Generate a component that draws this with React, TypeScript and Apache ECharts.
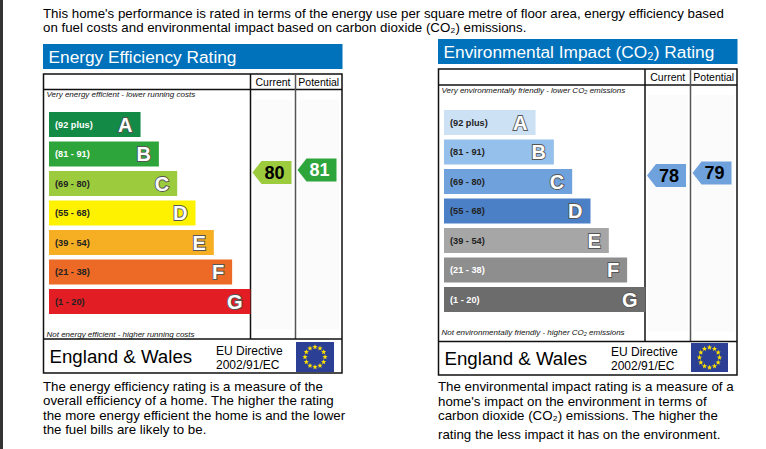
import React, { useEffect, useRef } from "react";
import * as echarts from "echarts";

// bands shared by both ratings
const bandLetters = ["A", "B", "C", "D", "E", "F", "G"];
const bandRanges = ["(92 plus)", "(81 - 91)", "(69 - 80)", "(55 - 68)", "(39 - 54)", "(21 - 38)", "(1 - 20)"];
const bandMin = [92, 81, 69, 55, 39, 21, 1];
const bandMax = [100, 91, 80, 68, 54, 38, 20];
// relative bar length of each band
const bandLengths = [5, 6, 7, 8, 9, 10, 11];

// ratings: [current, potential]
const energyRatings = [80, 81];
const co2Ratings = [78, 79];
const columnLabels = ["Current", "Potential"];

const energyColors = ["#138a45", "#2ea53a", "#9ccb3e", "#fff200", "#f6ae22", "#ec6a25", "#e31d24"];
const energyTextColors = ["#fff", "#fff", "#222", "#222", "#222", "#222", "#222"];
const co2Colors = ["#cde1f5", "#95c0eb", "#6fa1dc", "#4b80c7", "#a6a6a6", "#8e8e8e", "#6c6c6c"];
const co2TextColors = ["#222", "#222", "#222", "#222", "#222", "#fff", "#fff"];

const introLines = [
  "This home's performance is rated in terms of the energy use per square metre of floor area, energy efficiency based",
  "on fuel costs and environmental impact based on carbon dioxide (CO\u2082) emissions.",
];
const energyDesc = [
  "The energy efficiency rating is a measure of the",
  "overall efficiency of a home. The higher the rating",
  "the more energy efficient the home is and the lower",
  "the fuel bills are likely to be.",
];
const co2Desc = [
  "The environmental impact rating is a measure of a",
  "home's impact on the environment in terms of",
  "carbon dioxide (CO\u2082) emissions. The higher the",
  "rating the less impact it has on the environment.",
];

const FONT = '"Liberation Sans", Arial, Helvetica, sans-serif';

const bandOf = (r: number) => bandMin.findIndex((m) => r >= m);

// layout of the two panels
const panels = [
  {
    title: "Energy Efficiency Rating",
    topNote: "Very energy efficient - lower running costs",
    botNote: "Not energy efficient - higher running costs",
    desc: energyDesc,
    descY: [386, 400.5, 415, 429.5],
    x0: 43.5, x1: 342, titleTop: 44, titleH: 25, titleY: 57,
    tableTop: 74, headBot: 89.5, colA: 250.5, colB: 295.5, footTop: 339, footBot: 373,
    topNoteY: 94, botNoteY: 334, ewY: 356.5, euX: 216, euY: 350.5, flagX: 296, flagY: 342, flagW: 38, flagH: 30,
    grid: { left: 49, top: 109.75 },
  },
  {
    title: "Environmental Impact (CO\u2082) Rating",
    topNote: "Very environmentally friendly - lower CO\u2082 emissions",
    botNote: "Not environmentally friendly - higher CO\u2082 emissions",
    desc: co2Desc,
    descY: [386.5, 401, 415, 434],
    x0: 438.5, x1: 737, titleTop: 39, titleH: 25, titleY: 51.5,
    tableTop: 69, headBot: 85, colA: 645, colB: 690.5, footTop: 341.5, footBot: 375,
    topNoteY: 90, botNoteY: 332, ewY: 358, euX: 611, euY: 351.5, flagX: 691, flagY: 343, flagW: 37, flagH: 29,
    grid: { left: 444, top: 107.75 },
  },
];

function text(x: number, y: number, t: string, font: string, fill = "#000", align = "left") {
  return {
    type: "text",
    x,
    y,
    silent: true,
    style: { text: t, font, fill, align, textAlign: align, verticalAlign: "middle", textVerticalAlign: "middle" },
  };
}

function line(x1: number, y1: number, x2: number, y2: number, w = 1.5, c = "#111") {
  return { type: "line", silent: true, shape: { x1, y1, x2, y2 }, style: { stroke: c, lineWidth: w } };
}

function star(cx: number, cy: number, r: number) {
  const pts: number[][] = [];
  for (let k = 0; k < 10; k++) {
    const a = -Math.PI / 2 + (k * Math.PI) / 5;
    const rr = k % 2 === 0 ? r : r * 0.42;
    pts.push([cx + rr * Math.cos(a), cy + rr * Math.sin(a)]);
  }
  return { type: "polygon", silent: true, shape: { points: pts }, style: { fill: "#ffe000" } };
}

function panelGraphics(p: any) {
  const els: any[] = [];
  els.push({ type: "rect", silent: true, shape: { x: p.x0 - 0.5, y: p.titleTop, width: p.x1 - p.x0 + 1, height: p.titleH }, style: { fill: "#0072bc" } });
  els.push(text(p.x0 + 5, p.titleY, p.title, `17.3px ${FONT}`, "#fff"));
  // light column backgrounds
  els.push({ type: "rect", silent: true, shape: { x: p.colA + 3, y: p.headBot + 10, width: p.colB - p.colA - 6, height: p.footTop - p.headBot - 20 }, style: { fill: "#fafbfa" } });
  els.push({ type: "rect", silent: true, shape: { x: p.colB + 3, y: p.headBot + 10, width: p.x1 - p.colB - 6, height: p.footTop - p.headBot - 20 }, style: { fill: "#fafbfa" } });
  // frame
  els.push({ type: "rect", silent: true, shape: { x: p.x0, y: p.tableTop, width: p.x1 - p.x0, height: p.footBot - p.tableTop }, style: { fill: "none", stroke: "#111", lineWidth: 1.5 } });
  els.push(line(p.x0, p.headBot, p.x1, p.headBot));
  els.push(line(p.colA, p.tableTop, p.colA, p.footTop));
  els.push(line(p.colB, p.tableTop, p.colB, p.footTop, 1.5, "#555"));
  els.push(line(p.x0, p.footTop, p.x1, p.footTop));
  const hy = (p.tableTop + p.headBot) / 2;
  els.push(text((p.colA + p.colB) / 2, hy, columnLabels[0], `10.5px ${FONT}`, "#000", "center"));
  els.push(text((p.colB + p.x1) / 2, hy, columnLabels[1], `10.5px ${FONT}`, "#000", "center"));
  els.push(text(p.x0 + 3, p.topNoteY, p.topNote, `italic 8px ${FONT}`, "#111"));
  els.push(text(p.x0 + 3, p.botNoteY, p.botNote, `italic 8px ${FONT}`, "#111"));
  // footer
  els.push(text(p.x0 + 6, p.ewY, "England & Wales", `18.7px ${FONT}`, "#000"));
  els.push(text(p.euX, p.euY, "EU Directive", `12px ${FONT}`, "#000"));
  els.push(text(p.euX, p.euY + 14, "2002/91/EC", `12px ${FONT}`, "#000"));
  els.push({ type: "rect", silent: true, shape: { x: p.flagX, y: p.flagY, width: p.flagW, height: p.flagH }, style: { fill: "#2b3f94" } });
  const fcx = p.flagX + p.flagW / 2;
  const fcy = p.flagY + p.flagH / 2;
  for (let k = 0; k < 12; k++) {
    const a = (k * Math.PI) / 6;
    els.push(star(fcx + 10 * Math.cos(a), fcy + 10 * Math.sin(a), 2.8));
  }
  p.desc.forEach((l: string, i: number) => els.push(text(p.x0 - 0.5, p.descY[i], l, `13.3px ${FONT}`, "#000")));
  return els;
}

function rangeSeries(gi: number, colors: string[]) {
  return {
    type: "custom",
    xAxisIndex: gi,
    yAxisIndex: gi,
    silent: true,
    z: 5,
    data: bandRanges.map((_, i) => [0, i]),
    renderItem: (_params: any, api: any) => {
      const i = api.value(1);
      const c = api.coord([0, i]);
      return {
        type: "group",
        children: [
          {
            type: "text",
            x: c[0] + 6,
            y: c[1],
            style: {
              text: bandRanges[i],
              font: `bold 9.2px ${FONT}`,
              fill: colors[i],
              align: "left",
              verticalAlign: "middle",
            },
          },
        ],
      };
    },
  };
}

function arrowSeries(gi: number, ratings: number[], colors: string[], textColors: string[], cols: number[]) {
  return {
    type: "custom",
    xAxisIndex: gi,
    yAxisIndex: gi,
    silent: true,
    z: 5,
    data: ratings.map((r, k) => [0, bandOf(r), r, k]),
    renderItem: (_params: any, api: any) => {
      const bi = api.value(1);
      const rating = api.value(2);
      const col = api.value(3);
      const c = api.coord([0, bi]);
      const pitch = api.size([0, 1])[1];
      const top = c[1] - pitch / 2;
      const f = (bandMax[bi] - rating + 0.5) / (bandMax[bi] - bandMin[bi] + 1);
      const cy = top + f * pitch + 2.5;
      const x0 = cols[col] + 2;
      const x1 = x0 + 39;
      const h = 23;
      return {
        type: "group",
        children: [
          {
            type: "polygon",
            shape: {
              points: [
                [x0, cy],
                [x0 + 9, cy - h / 2],
                [x1, cy - h / 2],
                [x1, cy + h / 2],
                [x0 + 9, cy + h / 2],
              ],
            },
            style: { fill: colors[bi] },
          },
          {
            type: "text",
            x: (x0 + 5 + x1) / 2,
            y: cy + 0.5,
            style: {
              text: String(rating),
              font: `bold 18px ${FONT}`,
              fill: textColors[bi] === "#fff" ? "#fff" : "#000",
              align: "center",
              verticalAlign: "middle",
            },
          },
        ],
      };
    },
  };
}

function barSeries(gi: number, colors: string[]) {
  return {
    type: "bar",
    xAxisIndex: gi,
    yAxisIndex: gi,
    silent: true,
    barWidth: 25,
    data: bandLengths.map((v, i) => ({ value: v, itemStyle: { color: colors[i] } })),
    label: {
      show: true,
      position: "insideRight",
      distance: 8,
      formatter: (p: any) => bandLetters[p.dataIndex],
      color: "#fff",
      fontSize: 20,
      fontWeight: "bold",
      fontFamily: FONT,
      textBorderColor: "#555",
      textBorderWidth: 1.8,
    },
  };
}

const App: React.FC = () => {
  const chartRef = useRef<HTMLDivElement>(null);

  useEffect(() => {
    const chart = echarts.init(chartRef.current!, undefined, { renderer: "svg" });

    const graphics: any[] = [
      { type: "rect", silent: true, shape: { x: 0, y: 0, width: 3, height: 449 }, style: { fill: "#333" } },
      text(43, 13, introLines[0], `13.3px ${FONT}`),
      text(43, 27, introLines[1], `13.3px ${FONT}`),
      ...panelGraphics(panels[0]),
      ...panelGraphics(panels[1]),
    ];

    chart.setOption({
      animation: false,
      backgroundColor: "#fff",
      grid: panels.map((p) => ({ left: p.grid.left, top: p.grid.top, width: 293, height: 206.5 })),
      xAxis: panels.map((_, gi) => ({ gridIndex: gi, type: "value", min: 0, max: 16, show: false })),
      yAxis: panels.map((_, gi) => ({ gridIndex: gi, type: "category", data: bandLetters, inverse: true, show: false })),
      graphic: { elements: graphics },
      series: [
        barSeries(0, energyColors),
        barSeries(1, co2Colors),
        rangeSeries(0, energyTextColors),
        rangeSeries(1, co2TextColors),
        arrowSeries(0, energyRatings, energyColors, energyTextColors, [panels[0].colA, panels[0].colB]),
        arrowSeries(1, co2Ratings, co2Colors, co2TextColors, [panels[1].colA, panels[1].colB]),
      ],
    });

    return () => {
      chart.dispose();
    };
  }, []);

  return (
    <div
      ref={chartRef}
      style={{ position: "absolute", left: 0, top: 0, width: 766, height: 449 }}
    />
  );
};

export default App;
